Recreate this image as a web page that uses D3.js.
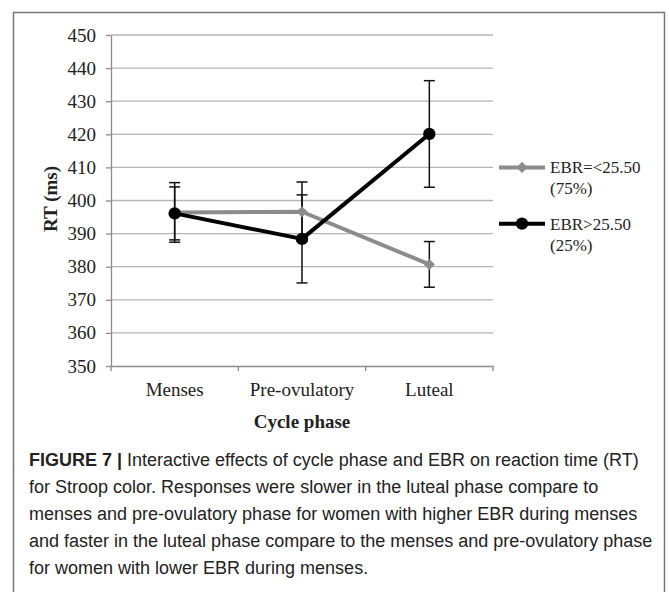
<!DOCTYPE html>
<html>
<head>
<meta charset="utf-8">
<script src="https://cdn.jsdelivr.net/npm/d3@7"></script>
<style>
  body { margin: 0; background: #fff; }
  .serif { font-family: "Liberation Serif", "Times New Roman", serif; }
  .caption { font-family: "Liberation Sans", Arial, sans-serif; font-size: 18px; fill: #222; }
</style>
</head>
<body>
<div id="chart"></div>
<script>
// chart values
const phases = ["Menses", "Pre-ovulatory", "Luteal"];
const lowMeans = [396.4, 396.6, 380.7];
const lowErr = [9.0, 9.0, 6.9];
const highMeans = [396.1, 388.4, 420.1];
const highErr = [8.0, 13.3, 16.1];
const yTicks = [350, 360, 370, 380, 390, 400, 410, 420, 430, 440, 450];
const legendLabels = [["EBR=<25.50", "(75%)"], ["EBR>25.50", "(25%)"]];
const captionLines = [
  ["FIGURE 7 | ", "Interactive effects of cycle phase and EBR on reaction time (RT)"],
  ["", "for Stroop color. Responses were slower in the luteal phase compare to"],
  ["", "menses and pre-ovulatory phase for women with higher EBR during menses"],
  ["", "and faster in the luteal phase compare to the menses and pre-ovulatory phase"],
  ["", "for women with lower EBR during menses."]
];

const width = 669, height = 592;
const plotLeft = 111, plotRight = 493, plotTop = 35, plotBottom = 366;
const grey = "#8c8c8c";

const svg = d3.select("#chart").append("svg")
  .attr("width", width)
  .attr("height", height);

// figure frame
svg.append("rect")
  .attr("x", 13.5).attr("y", 12.5)
  .attr("width", 651).attr("height", 600)
  .attr("fill", "none")
  .attr("stroke", "#777")
  .attr("stroke-width", 1.5);

const x = d3.scaleBand().domain(phases).range([plotLeft, plotRight]);
const y = d3.scaleLinear().domain([350, 450]).range([plotBottom, plotTop]);

// gridlines
svg.append("g")
  .selectAll("line")
  .data(yTicks.slice(1))
  .enter().append("line")
  .attr("x1", plotLeft).attr("x2", plotRight)
  .attr("y1", d => y(d)).attr("y2", d => y(d))
  .attr("stroke", "#b4b4b4")
  .attr("stroke-width", 1.3);

// y axis
const yAxis = svg.append("g")
  .attr("transform", "translate(" + plotLeft + ",0)")
  .call(d3.axisLeft(y).tickValues(yTicks).tickSize(5).tickPadding(10).tickSizeOuter(0));
yAxis.select(".domain").attr("stroke", grey).attr("stroke-width", 1.3);
yAxis.selectAll(".tick line").attr("stroke", grey).attr("stroke-width", 1.3);
yAxis.selectAll("text").attr("font-size", 19).attr("fill", "#222")
  .attr("font-family", "Liberation Serif");

// x axis
const xAxis = svg.append("g")
  .attr("transform", "translate(0," + plotBottom + ")")
  .call(d3.axisBottom(x).tickSize(0).tickPadding(16.5).tickSizeOuter(0));
xAxis.select(".domain").attr("stroke", grey).attr("stroke-width", 1.3);
xAxis.selectAll("text").attr("font-size", 19).attr("fill", "#222")
  .attr("font-family", "Liberation Serif");

// category boundary ticks
const bounds = phases.map(p => x(p)).concat([x(phases[phases.length - 1]) + x.bandwidth()]);
xAxis.selectAll(".bound")
  .data(bounds)
  .enter().append("line")
  .attr("x1", d => d).attr("x2", d => d)
  .attr("y1", 0).attr("y2", 5)
  .attr("stroke", grey)
  .attr("stroke-width", 1.3);

// axis titles
svg.append("text")
  .attr("class", "serif")
  .attr("x", (plotLeft + plotRight) / 2).attr("y", 428)
  .attr("text-anchor", "middle")
  .attr("font-size", 19).attr("font-weight", "bold").attr("fill", "#222")
  .text("Cycle phase");

svg.append("text")
  .attr("class", "serif")
  .attr("transform", "translate(57,199) rotate(-90)")
  .attr("text-anchor", "middle")
  .attr("font-size", 19).attr("font-weight", "bold").attr("fill", "#222")
  .text("RT (ms)");

const cx = p => x(p) + x.bandwidth() / 2;

const series = [
  { means: lowMeans, err: lowErr, color: grey, marker: d3.symbolSquare, size: 62, rot: 45 },
  { means: highMeans, err: highErr, color: "#000", marker: d3.symbolCircle, size: 120, rot: 0 }
];

const line = d3.line()
  .x((d, i) => cx(phases[i]))
  .y(d => y(d));

// error bars
series.forEach(s => {
  const g = svg.append("g");
  phases.forEach((p, i) => {
    const hi = y(s.means[i] + s.err[i]);
    const lo = y(s.means[i] - s.err[i]);
    g.append("line").attr("x1", cx(p)).attr("x2", cx(p)).attr("y1", hi).attr("y2", lo)
      .attr("stroke", "#111").attr("stroke-width", 1.5);
    [hi, lo].forEach(v => {
      g.append("line").attr("x1", cx(p) - 5.5).attr("x2", cx(p) + 5.5).attr("y1", v).attr("y2", v)
        .attr("stroke", "#111").attr("stroke-width", 1.5);
    });
  });
});

// lines and markers
series.forEach(s => {
  svg.append("path")
    .datum(s.means)
    .attr("d", line)
    .attr("fill", "none")
    .attr("stroke", s.color)
    .attr("stroke-width", 4)
    .attr("stroke-linejoin", "round");

  svg.append("g").selectAll("path")
    .data(s.means)
    .enter().append("path")
    .attr("transform", (d, i) => "translate(" + cx(phases[i]) + "," + y(d) + ") rotate(" + s.rot + ")")
    .attr("d", d3.symbol().type(s.marker).size(s.size))
    .attr("fill", s.color);
});

// legend
const legendY = [y(410), y(393)];
series.forEach((s, i) => {
  const g = svg.append("g").attr("transform", "translate(0," + legendY[i] + ")");
  g.append("line").attr("x1", 499).attr("x2", 545).attr("y1", 0).attr("y2", 0)
    .attr("stroke", s.color).attr("stroke-width", 4);
  g.append("path")
    .attr("transform", "translate(522,0) rotate(" + s.rot + ")")
    .attr("d", d3.symbol().type(s.marker).size(s.size))
    .attr("fill", s.color);
  legendLabels[i].forEach((t, j) => {
    g.append("text")
      .attr("class", "serif")
      .attr("x", 550).attr("y", 6 + j * 21)
      .attr("font-size", 17).attr("fill", "#222")
      .text(t);
  });
});

// caption
const cap = svg.append("g").attr("class", "caption");
captionLines.forEach((l, i) => {
  const t = cap.append("text").attr("x", 29).attr("y", 466 + i * 27);
  if (l[0]) t.append("tspan").attr("font-weight", "bold").text(l[0]);
  t.append("tspan").text(l[1]);
});
</script>
</body>
</html>
